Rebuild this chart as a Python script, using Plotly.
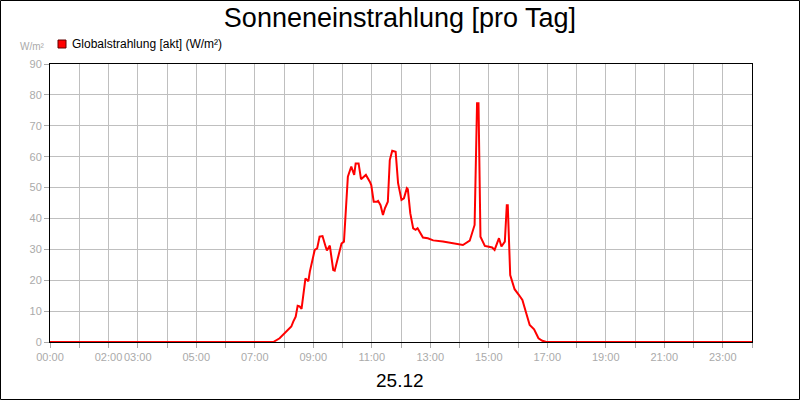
'''Sonneneinstrahlung pro Tag - Globalstrahlung'''

import plotly.graph_objs as go

# Messwerte (Uhrzeit, W/m²)
times = ['00:00', '07:38', '07:51', '08:05', '08:15', '08:19', '08:24', '08:28',
         '08:32', '08:36', '08:39', '08:44', '08:50', '08:53', '09:03', '09:08',
         '09:13', '09:19', '09:25', '09:28', '09:34', '09:41', '09:44', '09:58',
         '10:03', '10:08', '10:11', '10:18', '10:24', '10:27', '10:33', '10:38',
         '10:48', '10:56', '10:59', '11:04', '11:10', '11:13', '11:18', '11:23',
         '11:27', '11:33', '11:37', '11:42', '11:49', '11:54', '12:01', '12:06',
         '12:12', '12:14', '12:19', '12:25', '12:30', '12:34', '12:38', '12:45',
         '12:55', '13:06', '13:26', '13:47', '14:00', '14:07', '14:21', '14:26',
         '14:31', '14:36', '14:39', '14:43', '14:52', '14:58', '15:07', '15:12',
         '15:21', '15:26', '15:33', '15:37', '15:39', '15:44', '15:53', '16:02',
         '16:09', '16:16', '16:24', '16:33', '16:42', '16:50', '16:58', '24:00']
radiation = [0, 0, 1.2, 3.3, 5.0, 6.6, 8.2, 11.7,
             11.5, 10.7, 14.7, 20.6, 19.7, 22.8, 29.8, 30.3,
             34.1, 34.3, 31.1, 29.6, 31.2, 23.3, 23.1, 31.9,
             32.5, 46.0, 53.5, 56.8, 54.1, 57.8, 57.8, 52.7,
             54.1, 51.9, 50.8, 45.4, 45.4, 45.7, 44.3, 41.1,
             43.3, 45.4, 58.9, 61.9, 61.6, 51.4, 46.0, 46.5,
             49.8, 49.5, 41.7, 36.8, 36.3, 36.8, 35.7, 33.8,
             33.6, 32.9, 32.5, 31.9, 31.4, 31.4, 32.8, 35.7,
             37.9, 77.3, 77.3, 34.1, 31.1, 30.9, 30.6, 29.8,
             33.6, 30.9, 32.5, 44.3, 44.3, 21.7, 17.1, 15.2,
             13.6, 9.8, 5.5, 4.1, 1.2, 0.4, 0, 0]

# Achsenbeschriftung
tick_hours = list(range(0, 25))
labelled_hours = [0, 2, 3, 5, 7, 9, 11, 13, 15, 17, 19, 21, 23]
y_ticks = list(range(0, 100, 10))


def to_hours(t):
    h, m = t.split(':')
    return int(h) + int(m) / 60


hours = [to_hours(t) for t in times]
tick_text = ['%02d:00' % h if h in labelled_hours else '' for h in tick_hours]

W, H = 800, 400
ML, MR, MT, MB = 50, 48, 64, 58
PW, PH = W - ML - MR, H - MT - MB

trace = go.Scatter(x=hours, y=radiation, mode='lines',
                   line=dict(color='#ff0000', width=2), showlegend=False)

grey = '#aaaaaa'
font = 'Liberation Sans, Arial, sans-serif'

layout = go.Layout(
    width=W, height=H,
    margin=dict(l=ML, r=MR, t=MT, b=MB),
    paper_bgcolor='white', plot_bgcolor='white',
    font=dict(family=font),
    title=dict(text='Sonneneinstrahlung [pro Tag]', x=0.5, xanchor='center',
               y=1 - 18 / H, yanchor='middle',
               font=dict(size=27, color='black')),
    xaxis=dict(range=[0, 24], tickvals=tick_hours, ticktext=tick_text,
               tickangle=0,
               showgrid=True, gridcolor='#bfbfbf', gridwidth=1,
               ticks='outside', ticklen=5, tickcolor=grey,
               tickfont=dict(size=11, color=grey),
               showline=True, linecolor='black', linewidth=1, mirror=True,
               zeroline=False, fixedrange=True),
    yaxis=dict(range=[0, 90], tickvals=y_ticks,
               showgrid=True, gridcolor='#bfbfbf', gridwidth=1,
               ticks='outside', ticklen=5, tickcolor=grey,
               tickfont=dict(size=11, color=grey),
               showline=True, linecolor='black', linewidth=1, mirror=True,
               zeroline=False, fixedrange=True),
    shapes=[
        # Rahmen um das ganze Bild
        dict(type='rect', xref='paper', yref='paper',
             x0=-(ML - 0.5) / PW, x1=1 + (MR - 0.5) / PW,
             y0=-(MB - 0.5) / PH, y1=1 + (MT - 0.5) / PH,
             line=dict(color='black', width=1)),
        # Legendensymbol
        dict(type='rect', xref='paper', yref='paper',
             x0=(58 - ML) / PW, x1=(66 - ML) / PW,
             y0=1 + (MT - 48) / PH, y1=1 + (MT - 40) / PH,
             fillcolor='#ff0000', line=dict(color='#600000', width=1)),
    ],
    annotations=[
        dict(text='Globalstrahlung [akt] (W/m²)', xref='paper', yref='paper',
             x=(70 - ML) / PW, y=1 + (MT - 44) / PH, xanchor='left',
             yanchor='middle', showarrow=False,
             font=dict(size=12, color='black')),
        dict(text='W/m²', xref='paper', yref='paper',
             x=-(ML - 47) / PW, y=1 + (MT - 47) / PH, xanchor='right',
             yanchor='middle', showarrow=False,
             font=dict(size=10, color=grey)),
        dict(text='25.12', xref='paper', yref='paper',
             x=0.5 + (400 - ML - PW / 2) / PW, y=-(380 - MT - PH) / PH,
             xanchor='center', yanchor='middle', showarrow=False,
             font=dict(size=19, color='black')),
    ],
)

fig = go.Figure(data=[trace], layout=layout)
# Seitenrand entfernen, damit die Grafik genau im Fenster sitzt
fig.write_html('out.html', config={'displayModeBar': False},
               post_script="document.body.style.margin='0';")
